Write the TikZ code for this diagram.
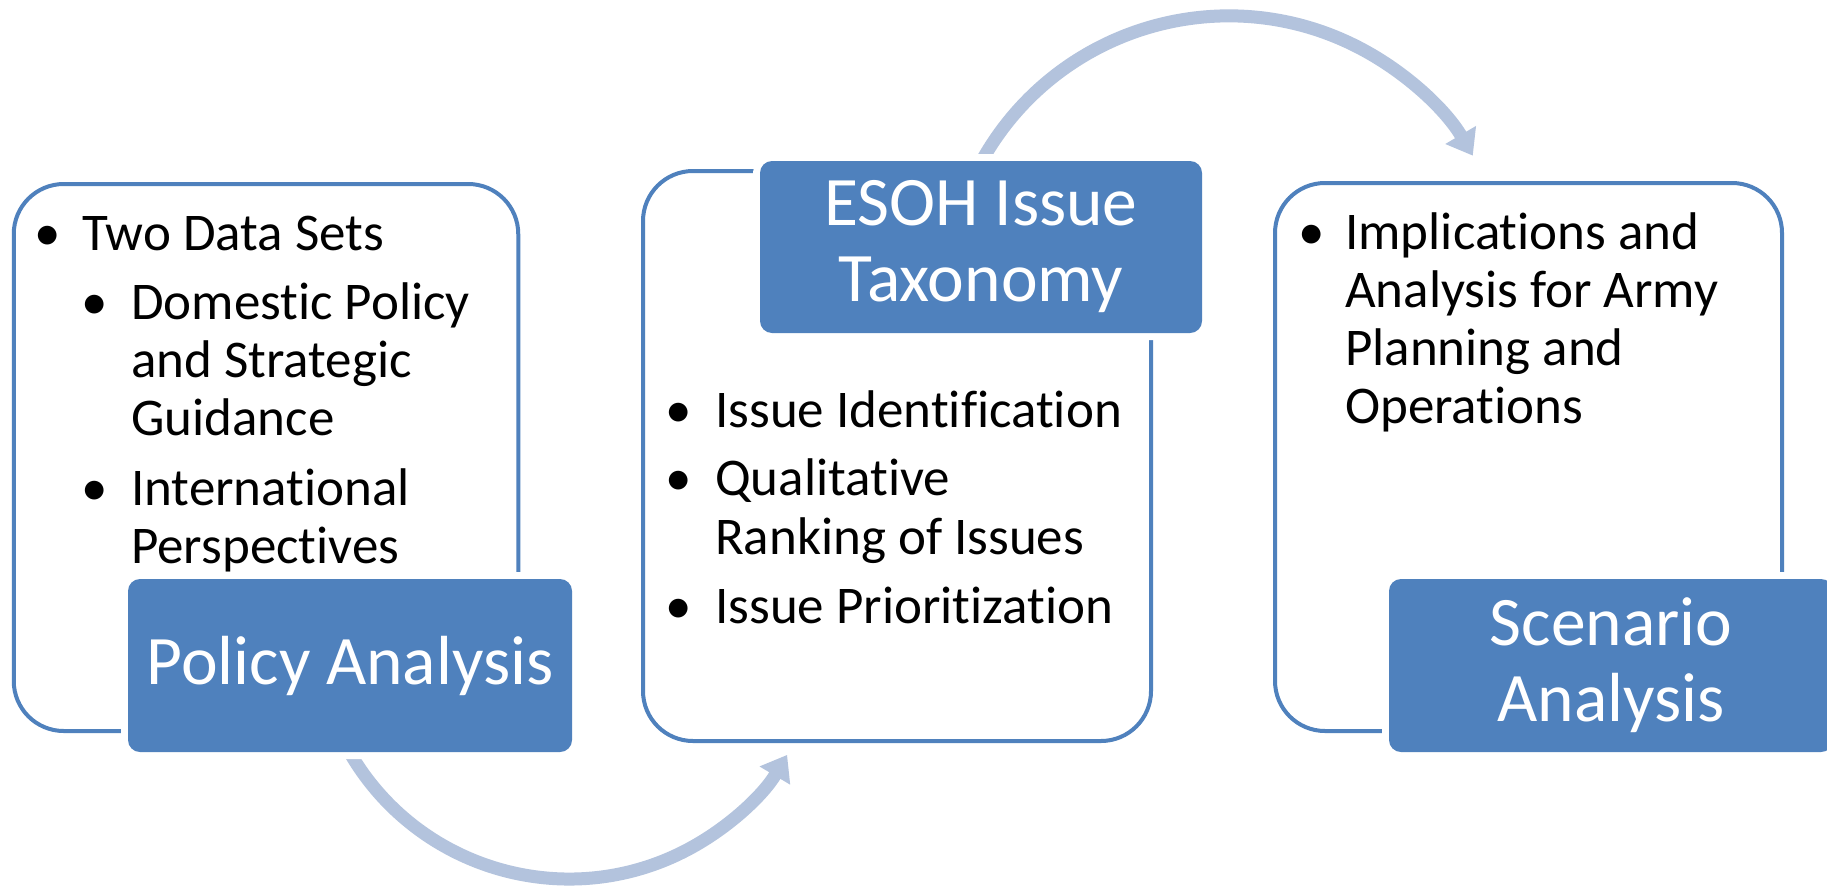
\documentclass[tikz,border=0pt]{standalone}
\usepackage{fontspec}
\setmainfont{Carlito}[Ligatures=NoCommon]
\usetikzlibrary{arrows.meta}
\definecolor{boxblue}{HTML}{4F81BD}
\definecolor{arrowblue}{HTML}{B3C3DD}
\tikzset{
  outbox/.style={draw=boxblue, line width=4pt, rounded corners=50pt, inner sep=0pt},
  titlebox/.style={fill=boxblue, rounded corners=12pt, preaction={draw=white, line width=14pt},
    text=white, font=\fontsize{69.5}{76}\selectfont, align=center, inner sep=0pt},
  bodytext/.style={anchor=base west, inner sep=0pt, font=\fontsize{53}{58}\selectfont},
  bul/.style={anchor=base, inner sep=0pt, font=\fontsize{53}{58}\selectfont},
  flow/.style={draw=arrowblue, line width=13pt, -{Triangle[width=34pt,length=24pt]}},
}
\begin{document}
\begin{tikzpicture}[x=1pt, y=-1pt]
\clip (0,0) rectangle (1827,886);
\fill[white] (0,0) rectangle (1827,886);

% flow arrows (behind boxes)
\coordinate (a1s) at (345.3,744.5);
\coordinate (a2s) at (979.0,166.0);
\draw[flow] (a1s) arc[start angle=208, end angle=329.3, radius=253.5pt];
\draw[flow] (a2s) arc[start angle=152, end angle=30.4, radius=282.9pt];

% outline boxes
\node[outbox, minimum width=504.5pt, minimum height=547pt] (lb) at (266,457.5) {};
\node[outbox, minimum width=508pt, minimum height=570pt] (mb) at (897,456) {};
\node[outbox, minimum width=507pt, minimum height=548pt] (rb) at (1528.5,457) {};

% title boxes
\node[titlebox, minimum width=444pt, minimum height=173pt] (pa) at (350,665.5) {Policy Analysis};
\node[titlebox, minimum width=442pt, minimum height=172pt] (et) at (981,247) {ESOH Issue\\Taxonomy};
\node[titlebox, minimum width=444pt, minimum height=173pt] (sa) at (1611,665.5) {Scenario\\Analysis};

% left box text
\node[bul] (lb1) at (48,250) {•};
\node[bodytext] (lt1) at (82,250) {Two Data Sets};
\node[bul] (lb2) at (95,319) {•};
\node[bodytext] (lt2) at (131,319) {Domestic Policy};
\node[bodytext] (lt3) at (131,377) {and Strategic};
\node[bodytext] (lt4) at (131,435) {Guidance};
\node[bul] (lb3) at (95,505) {•};
\node[bodytext] (lt5) at (131,505) {International};
\node[bodytext] (lt6) at (131,563) {Perspectives};

% middle box text
\node[bul] (mb1) at (679,427) {•};
\node[bodytext] (mt1) at (715,427) {Issue Identification};
\node[bul] (mb2) at (679,495) {•};
\node[bodytext] (mt2) at (715,495) {Qualitative};
\node[bodytext] (mt3) at (715,554) {Ranking of Issues};
\node[bul] (mb3) at (679,623) {•};
\node[bodytext] (mt4) at (715,623) {Issue Prioritization};

% right box text
\node[bul] (rb1) at (1312,249) {•};
\node[bodytext] (rt1) at (1345,249) {Implications and};
\node[bodytext] (rt2) at (1345,307) {Analysis for Army};
\node[bodytext] (rt3) at (1345,365) {Planning and};
\node[bodytext] (rt4) at (1345,423) {Operations};
\end{tikzpicture}
\end{document}
